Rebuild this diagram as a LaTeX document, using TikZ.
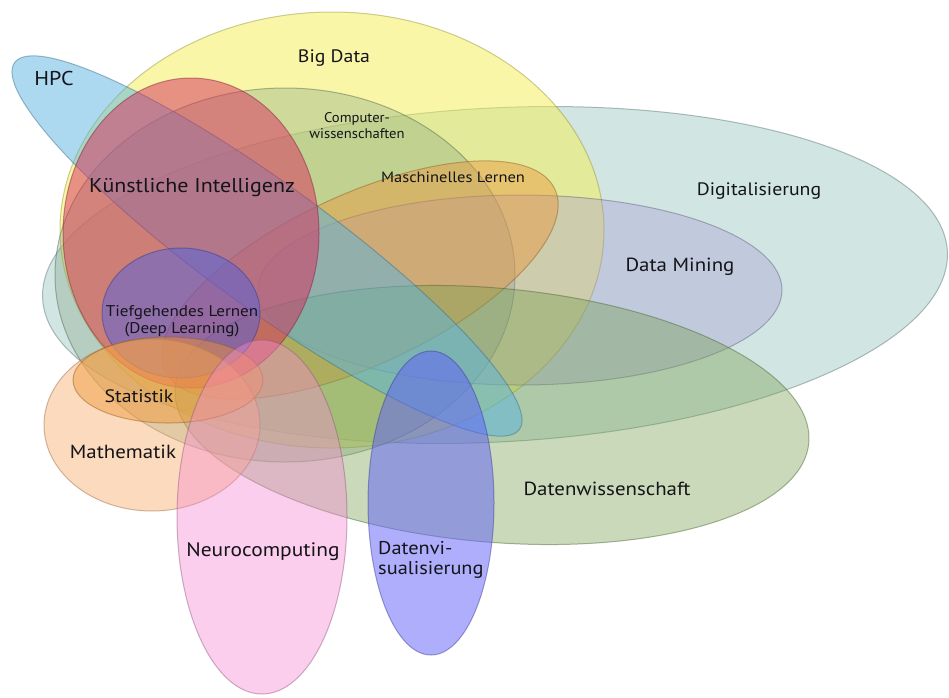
\documentclass[tikz,border=0pt]{standalone}
\usepackage{fontspec}
\setmainfont{PT Sans}
\begin{document}
\begin{tikzpicture}[x=1pt,y=-1pt]
% colours of the fields
\definecolor{cBig}{RGB}{245,240,80}
\definecolor{cHPC}{RGB}{90,180,225}
\definecolor{cDig}{RGB}{140,190,185}
\definecolor{cCS}{RGB}{130,165,130}
\definecolor{cML}{RGB}{235,150,60}
\definecolor{cDM}{RGB}{165,150,210}
\definecolor{cDW}{RGB}{120,160,80}
\definecolor{cKI}{RGB}{215,45,95}
\definecolor{cDL}{RGB}{70,95,235}
\definecolor{cMath}{RGB}{250,175,110}
\definecolor{cStat}{RGB}{240,150,50}
\definecolor{cNeuro}{RGB}{245,140,210}
\definecolor{cVis}{RGB}{95,95,250}
\definecolor{txt}{RGB}{20,20,25}
\tikzset{
  field/.style={fill=#1, fill opacity=0.45, draw=#1!60!black, draw opacity=0.45, line width=1pt},
  lbl/.style={text=txt, font=\fontsize{19}{21}\selectfont, inner sep=0pt, align=center, xscale=1.1},
  small/.style={lbl, font=\fontsize{15}{17}\selectfont}
}
\useasboundingbox (0,0) rectangle (949,697);
\fill[white] (0,0) rectangle (949,697);

% large background fields
\path[field=cDig, fill opacity=0.4, rotate around={3:(495,275)}] (495,275) ellipse [x radius=453, y radius=167];
\path[field=cBig, fill opacity=0.5] (332,230) ellipse [x radius=272, y radius=218];
\path[field=cCS, fill opacity=0.35] (285,275) ellipse [x radius=230, y radius=187];
\path[field=cDM, fill opacity=0.35] (520,290) ellipse [x radius=262, y radius=95];
\path[field=cML, fill opacity=0.45, rotate around={25:(360,280)}] (360,280) ellipse [x radius=215, y radius=85];
\path[field=cDW, fill opacity=0.4, rotate around={-5:(492,415)}] (492,415) ellipse [x radius=318, y radius=127];
\path[field=cHPC, fill opacity=0.5, rotate around={-36:(267,246)}] (267,246) ellipse [x radius=312, y radius=62];

% artificial intelligence and deep learning
\path[field=cKI, fill opacity=0.5] (191,233) ellipse [x radius=128, y radius=155];
\path[field=cDL, fill opacity=0.45] (181,313) ellipse [x radius=79, y radius=65];

% mathematics, statistics and the two lower fields
\path[field=cMath, fill opacity=0.45] (152,425) ellipse [x radius=108, y radius=86];
\path[field=cStat, fill opacity=0.45] (168,380) ellipse [x radius=95, y radius=43];
\path[field=cNeuro, fill opacity=0.42] (262,517) ellipse [x radius=85, y radius=177];
\path[field=cVis, fill opacity=0.5] (431,503) ellipse [x radius=63, y radius=152];

% labels
\node[lbl, font=\fontsize{20}{22}\selectfont] (hpc) at (54,78) {HPC};
\node[lbl, font=\fontsize{18}{20}\selectfont] (big) at (334,58) {Big Data};
\node[small, font=\fontsize{14}{16}\selectfont, xscale=0.95] (cs) at (357,126) {Computer-\\wissenschaften};
\node[lbl, font=\fontsize{20}{22}\selectfont] (ki) at (192,188) {Künstliche Intelligenz};
\node[small] (ml) at (453,177) {Maschinelles Lernen};
\node[lbl, font=\fontsize{18}{20}\selectfont] (dig) at (759,191) {Digitalisierung};
\node[lbl] (dm) at (680,267) {Data Mining};
\node[small, font=\fontsize{15.5}{17.5}\selectfont] (dl) at (182,321) {Tiefgehendes Lernen\\(Deep Learning)};
\node[lbl, font=\fontsize{18}{20}\selectfont] (stat) at (139,396) {Statistik};
\node[lbl] (math) at (123,452) {Mathematik};
\node[lbl] (dw) at (607,489) {Datenwissenschaft};
\node[lbl, font=\fontsize{19.5}{21.5}\selectfont] (neuro) at (263,552) {Neurocomputing};
\node[lbl, font=\fontsize{18.5}{20.5}\selectfont, align=left, anchor=west] (vis) at (378,560) {Datenvi-\\sualisierung};
\end{tikzpicture}
\end{document}
